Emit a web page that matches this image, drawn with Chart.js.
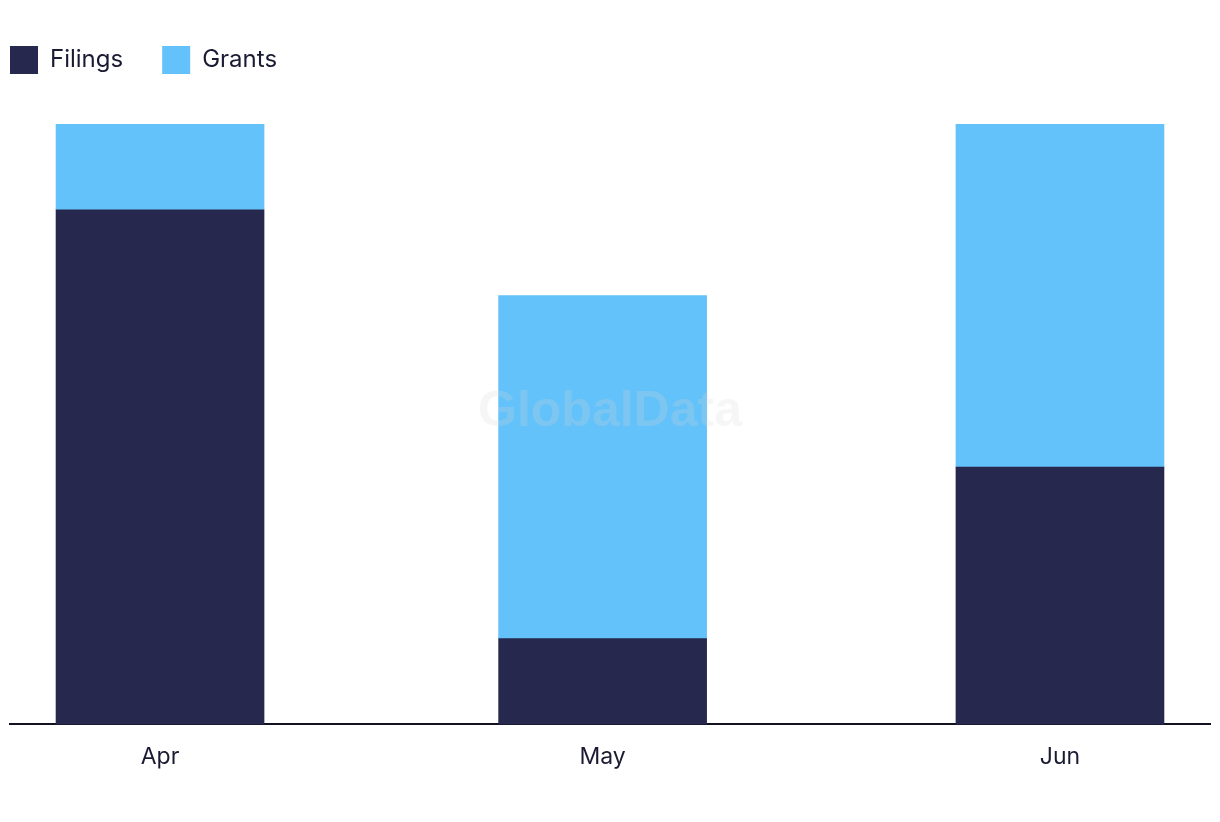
<!DOCTYPE html>
<html>
<head>
<meta charset="utf-8">
<script src="https://cdn.jsdelivr.net/npm/chart.js@4/dist/chart.umd.min.js"></script>
<style>
  html, body { margin: 0; padding: 0; background: #fff; }
  #wrap { width: 1220px; height: 822px; }
</style>
</head>
<body>
<div id="wrap"><canvas id="myChart"></canvas></div>
<script>
// Month labels and the first day of each month (bars sit on a time axis)
const months = ["Apr", "May", "Jun"];
const monthStarts = ["2024-04-01", "2024-05-01", "2024-06-01"];

// Series values
const filings = [6, 1, 3];
const grants = [1, 4, 4];

const dayMs = 86400000;
const dayNums = monthStarts.map(d => Math.round((Date.parse(d) - Date.parse(monthStarts[0])) / dayMs));

function toPoints(values) {
    return values.map((v, i) => ({ x: dayNums[i], y: v }));
}

// faint watermark in the middle of the plot
const watermark = {
    id: 'watermark',
    afterDatasetsDraw(chart) {
        const ctx = chart.ctx;
        const area = chart.chartArea;
        ctx.save();
        ctx.font = 'bold 50px "Liberation Sans", Arial, sans-serif';
        ctx.fillStyle = 'rgba(214, 214, 214, 0.22)';
        ctx.textAlign = 'center';
        ctx.textBaseline = 'middle';
        ctx.fillText('GlobalData', (area.left + area.right) / 2, (area.top + area.bottom) / 2 - 12);
        ctx.restore();
    }
};

// give the legend more room below it and pull it to the left edge
const legendTweak = {
    id: 'legendTweak',
    afterInit(chart) {
        const fit = chart.legend.fit;
        chart.legend.fit = function() {
            fit.call(this);
            this.height += 40;
        };
    },
    afterLayout(chart) {
        chart.legend.left -= chart.legend.options.labels.padding;
    }
};

const ctx = document.getElementById("myChart").getContext("2d");
const chart = new Chart(ctx, {
    type: 'bar',
    data: {
        datasets: [
            {
                label: 'Filings',
                data: toPoints(filings),
                backgroundColor: '#27284d',
                barThickness: 208
            },
            {
                label: 'Grants',
                data: toPoints(grants),
                backgroundColor: '#63c2f9',
                barThickness: 208
            }
        ]
    },
    options: {
        responsive: true,
        maintainAspectRatio: false,
        animation: false,
        layout: {
            padding: { left: 10, right: 10, top: 7, bottom: 32 }
        },
        plugins: {
            legend: {
                display: true,
                position: 'top',
                align: 'start',
                labels: {
                    boxWidth: 28,
                    boxHeight: 28,
                    padding: 39,
                    color: '#1a1a33',
                    font: { family: 'Inter, "Noto Sans", sans-serif', size: 24 }
                }
            },
            tooltip: { enabled: false }
        },
        scales: {
            x: {
                type: 'linear',
                stacked: true,
                offset: false,
                min: dayNums[0] - 10.17,
                max: dayNums[dayNums.length - 1] + 10.17,
                grid: { display: false, drawTicks: false, offset: false },
                border: { display: true, color: '#111122', width: 2 },
                afterBuildTicks: scale => {
                    scale.ticks = dayNums.map(v => ({ value: v }));
                },
                ticks: {
                    padding: 19,
                    color: '#1a1a33',
                    maxRotation: 0,
                    autoSkip: false,
                    font: { family: 'Inter, "Noto Sans", sans-serif', size: 23 },
                    callback: v => months[dayNums.indexOf(v)]
                }
            },
            y: {
                stacked: true,
                display: false,
                min: 0,
                max: 7
            }
        }
    },
    plugins: [watermark, legendTweak]
});
</script>
</body>
</html>
